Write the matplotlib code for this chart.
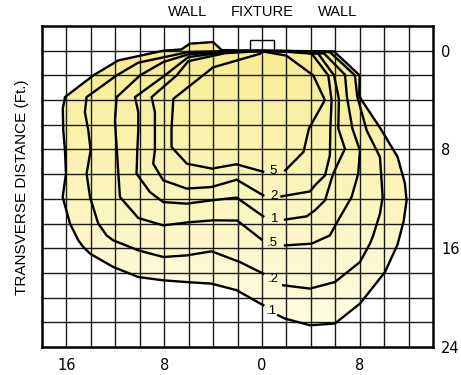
import numpy as np
import matplotlib
matplotlib.use("Agg")
import matplotlib.pyplot as plt
from matplotlib.patches import Polygon, Rectangle
from matplotlib.colors import LinearSegmentedColormap

# ---- data (feet) ----
levels = ["5", "2", "1", ".5", ".2", ".1"]
label_pos_x = [0.95, 0.95, 1.05, 0.85, 0.92, 0.75]
label_pos_y = [9.75, 11.75, 13.6, 15.55, 18.5, 21.05]

c5_x = [1.9, 3.4, 3.85, 5.15, 4.2, 2.0, 0.0, -0.15, -4.0, -7.25, -7.4, -7.4, -6.15, -4.1, -2.1, 0.1]
c5_y = [9.7, 8.2, 6.3, 4.0, 2.0, 0.4, 0.05, 0.25, 1.35, 3.9, 6.3, 7.8, 9.15, 9.55, 9.2, 9.8]

c2_x = [1.6, 3.93, 4.34, 5.16, 5.56, 5.6, 5.7, 5.43, 4.07, 2.0, 0.0, -3.0, -6.03, -6.98, -9.03, -8.76,
        -8.76, -8.76, -8.9, -8.08, -6.16, -4.12, -2.07, 0.11]
c2_y = [11.8, 11.4, 10.9, 10.1, 8.48, 6.3, 4.02, 2.0, 0.24, 0.08, 0.03, 0.2, 0.85, 2.0, 3.76, 4.97,
        6.45, 8.07, 9.15, 10.5, 11.17, 11.04, 10.45, 11.72]

c1_x = [1.88, 3.66, 4.34, 5.16, 5.83, 6.79, 6.25, 6.3, 5.9, 4.6, 2.0, 0.0, -3.0, -6.03, -7.94, -10.39,
        -10.12, -10.12, -10.2, -10.26, -9.17, -8.08, -6.16, -4.12, -2.07, 0.11]
c1_y = [13.68, 13.42, 12.93, 12.12, 9.96, 7.94, 6.3, 3.9, 2.0, 0.24, 0.06, 0.03, 0.12, 0.52, 2.0, 3.76,
        4.97, 6.45, 8.07, 9.96, 11.45, 12.26, 12.39, 12.12, 11.9, 13.42]

c05_x = [1.88, 4.07, 5.56, 6.24, 7.34, 7.88, 8.02, 7.4, 6.95, 6.8, 5.1, 2.0, 0.0, -3.0, -6.03, -8.08,
         -9.98, -11.89, -12.03, -11.89, -11.76, -11.62, -10.12, -8.08, -6.03, -3.99, -2.02, -0.02]
c05_y = [15.77, 15.63, 14.96, 13.74, 11.85, 9.96, 8.07, 6.3, 3.7, 1.95, 0.24, 0.04, 0.02, 0.08, 0.3, 0.92,
         2.0, 3.76, 5.65, 7.8, 9.83, 11.85, 13.55, 14.15, 13.9, 13.74, 13.76, 15.3]

c02_x = [1.74, 3.93, 5.97, 8.02, 8.84, 9.11, 9.66, 9.88, 9.66, 8.57, 7.8, 7.61, 5.56, 2.0, 0.0, -3.0,
         -6.03, -10.12, -11.89, -14.35, -14.49, -14.21, -14.02, -14.35, -14.07, -13.4, -12.71, -12.17,
         -10.12, -8.08, -6.16, -4.12, -1.8, 0.11]
c02_y = [19.0, 19.27, 18.74, 17.12, 15.63, 14.96, 13.2, 11.85, 8.62, 6.45, 3.7, 2.0, 0.11, 0.02, 0.0, 0.03,
         0.11, 0.97, 2.0, 3.76, 4.97, 6.45, 8.07, 9.96, 11.85, 14.0, 14.96, 15.36,
         16.17, 16.71, 16.58, 16.25, 17.12, 18.06]

c01_x = [1.33, 1.88, 3.93, 5.97, 8.02, 10.07, 11.1, 11.6, 11.84, 11.7, 11.1, 9.7, 7.96, 8.0, 5.9, 0.0,
         -3.3, -4.0, -5.9, -6.6, -8.08, -11.76, -13.8, -16.12, -16.3, -16.26, -16.12, -16.04, -16.31,
         -15.71, -15.03, -14.62, -14.07, -12.17, -10.12, -8.08, -6.16, -4.12, -2.07, 0.11]
c01_y = [21.43, 21.7, 22.24, 22.1, 20.49, 17.93, 15.7, 13.8, 12.12, 10.74, 8.6, 6.3, 3.7, 2.0, 0.06, 0.0,
         -0.05, -0.7, -0.57, -0.1, 0.0, 0.79, 2.0, 3.76, 4.7, 6.45, 8.07, 9.96, 11.85,
         14.0, 15.36, 15.9, 16.44, 17.52, 18.33, 18.6, 18.74, 18.87, 19.4, 20.62]

contours_x = [c5_x, c2_x, c1_x, c05_x, c02_x, c01_x]
contours_y = [c5_y, c2_y, c1_y, c05_y, c02_y, c01_y]

x_ticks = [-16, -8, 0, 8]
x_tick_labels = ["16", "8", "0", "8"]
y_ticks = [0, 8, 16, 24]
y_tick_labels = ["0", "8", "16", "24"]
top_labels = ["WALL", "FIXTURE", "WALL"]
top_label_x = [-6.05, 0.05, 6.2]

sans = ["Liberation Sans", "DejaVu Sans"]

fig = plt.figure(figsize=(4.61, 3.75), dpi=100)
ax = fig.add_axes([42/461, 1-347/375, (433-42)/461, (347-26)/375])
ax.set_xlim(-18, 14)
ax.set_ylim(24, -2)

# gradient fill clipped to outer contour
cmap = LinearSegmentedColormap.from_list("yel", ["#F8EC8E", "#FFFCE6"])
grad = np.linspace(0, 1, 256).reshape(-1, 1)
im = ax.imshow(grad, cmap=cmap, extent=[-18, 14, 23, -1], origin="upper",
               aspect="auto", zorder=1, interpolation="bilinear")
outer = Polygon(np.column_stack([c01_x, c01_y]), closed=True, transform=ax.transData)
im.set_clip_path(outer)
ax.set_xlim(-18, 14)
ax.set_ylim(24, -2)

# grid
for gx in np.arange(-16, 14, 2):
    ax.axvline(gx, color="#1a1a1a", lw=1.0, zorder=2)
for gy in np.arange(0, 24, 2):
    ax.axhline(gy, color="#1a1a1a", lw=1.0, zorder=2)

# contours
for cx, cy in zip(contours_x, contours_y):
    ax.plot(cx, cy, color="black", lw=1.7, zorder=3, solid_joinstyle="miter")
for lab, lx, ly in zip(levels, label_pos_x, label_pos_y):
    ax.text(lx, ly, lab, ha="center", va="center", fontsize=9.5,
            family=sans, zorder=4)

# fixture box
ax.add_patch(Rectangle((-1, -0.9), 2, 0.9, fill=False, ec="black", lw=1.0, zorder=3))

for s in ax.spines.values():
    s.set_linewidth(1.8)
    s.set_zorder(5)

ax.set_xticks(x_ticks)
ax.set_xticklabels(x_tick_labels)
ax.yaxis.tick_right()
ax.set_yticks(y_ticks)
ax.set_yticklabels(y_tick_labels)
ax.tick_params(axis="both", length=0, labelsize=10.5)
ax.tick_params(axis="x", pad=8)
ax.tick_params(axis="y", pad=6)

for t, tx in zip(top_labels, top_label_x):
    ax.text(tx, -3.1, t, ha="center", va="center", fontsize=10.5, family=sans, clip_on=False)

fig.text(22/461, 1-187/375, "TRANSVERSE DISTANCE (Ft.)", rotation=90, ha="center",
         va="center", fontsize=11, family=sans)

fig.savefig("out.png", dpi=100)
